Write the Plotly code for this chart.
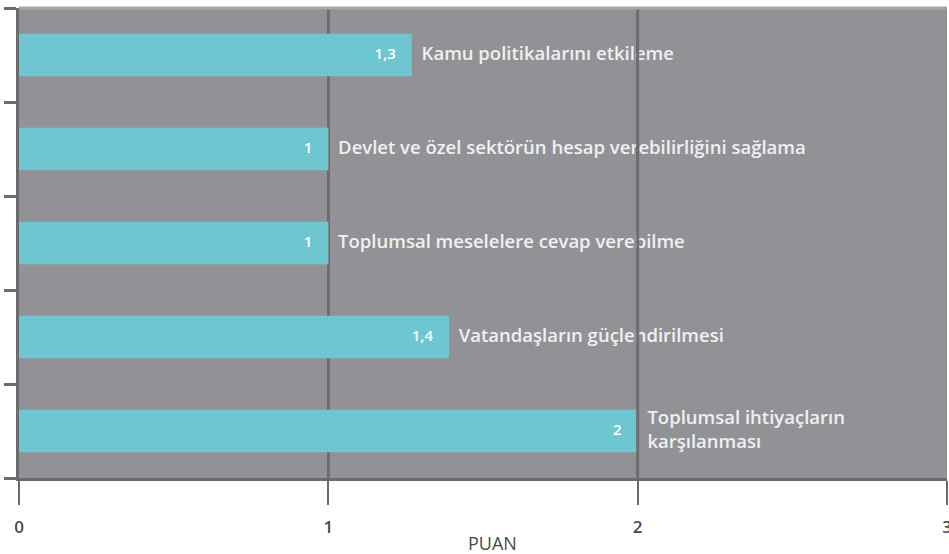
import plotly.graph_objects as go

categories = [
    "Kamu politikalarını etkileme",
    "Devlet ve özel sektörün hesap verebilirliğini sağlama",
    "Toplumsal meselelere cevap verebilme",
    "Vatandaşların güçlendirilmesi",
    "Toplumsal ihtiyaçların<br>karşılanması",
]
values = [1.27, 1.0, 1.0, 1.39, 2.0]
value_labels = ["1,3", "1", "1", "1,4", "2"]
x_ticks = [0, 1, 2, 3]
x_tick_labels = ["0", "1", "2", "3"]
x_title = "PUAN"

FONT = "Open Sans"
ypos = list(range(len(categories)))

fig = go.Figure()

# category labels (drawn as a trace so gridline at 2 can sit above them)
fig.add_trace(go.Scatter(
    x=values, y=ypos, mode="markers+text", text=categories,
    textposition="middle right",
    marker=dict(size=14, color="rgba(0,0,0,0)"),
    textfont=dict(family=FONT, size=18.5, color="#f0f0f0", weight=600),
    hoverinfo="skip", showlegend=False, cliponaxis=False,
))

fig.add_trace(go.Bar(
    x=values, y=ypos, orientation="h", width=0.45,
    marker=dict(color="#6ec6d0", line=dict(width=0)),
    hoverinfo="skip", showlegend=False,
))

# value labels inside bar ends
fig.add_trace(go.Scatter(
    x=values, y=ypos, mode="markers+text", text=value_labels,
    textposition="middle left",
    marker=dict(size=24, color="rgba(0,0,0,0)"),
    textfont=dict(family=FONT, size=15, color="#ffffff", weight=600),
    hoverinfo="skip", showlegend=False,
))

fig.update_layout(
    width=949, height=554,
    margin=dict(l=19, r=2, t=8, b=76),
    paper_bgcolor="white",
    plot_bgcolor="#929296",
    xaxis=dict(
        range=[0, 3], tickmode="array", tickvals=x_ticks, ticktext=x_tick_labels,
        ticks="outside", ticklen=24, tickwidth=2, tickcolor="#6b6b6b",
        showline=True, linecolor="#6b6b6b", linewidth=3,
        showgrid=True, gridcolor="#6e6e72", gridwidth=3, zeroline=False,
        tickfont=dict(family=FONT, size=17, color="#4a4a4a", weight=600),
        ticklabelstandoff=8, automargin=False, ticklabeloverflow="allow",
    ),
    yaxis=dict(
        range=[len(categories) - 0.5, -0.5],
        tickmode="array",
        tickvals=[i - 0.5 for i in range(len(categories) + 1)],
        ticktext=[""] * (len(categories) + 1),
        ticks="outside", ticklen=12, tickwidth=3, tickcolor="#6b6b6b",
        showline=True, linecolor="#6b6b6b", linewidth=3,
        showgrid=False, zeroline=False, automargin=False,
    ),
    shapes=[
        dict(type="line", xref="x", yref="paper", x0=2, x1=2, y0=0, y1=1,
             line=dict(color="#6e6e72", width=3), layer="above"),
        dict(type="line", xref="paper", yref="paper", x0=0, x1=1, y0=1, y1=1,
             line=dict(color="#a9a9ab", width=3), layer="above"),
    ],
    annotations=[
        dict(text=x_title, xref="paper", yref="paper", x=0.51, y=-0.138,
             xanchor="center", yanchor="middle", showarrow=False,
             font=dict(family=FONT, size=18, color="#4a4a4a")),
    ],
)

fig.write_html(
    "out.html",
    config={"displayModeBar": False},
    post_script="document.body.style.margin='0';document.body.style.overflow='hidden';",
)
